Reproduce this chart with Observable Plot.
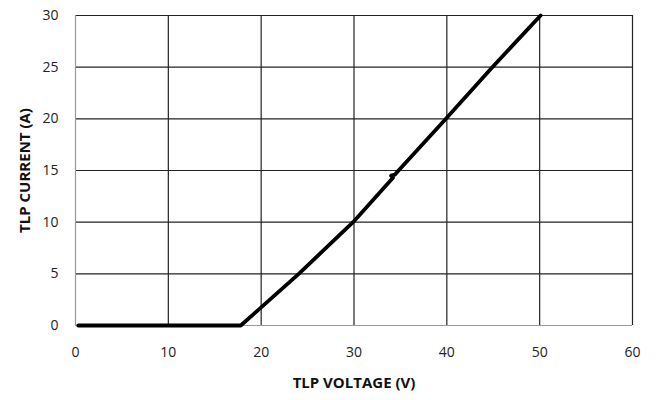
<!DOCTYPE html>
<html>
<head>
<meta charset="utf-8">
<script src="https://cdn.jsdelivr.net/npm/d3@7"></script>
<script src="https://cdn.jsdelivr.net/npm/@observablehq/plot@0.6"></script>
<style>
  html, body { margin: 0; padding: 0; background: #fff; }
  #chart { width: 660px; height: 400px; }
</style>
</head>
<body>
<div id="chart"></div>
<script>
const voltage = [0.3, 17.8, 20.0, 24.05, 29.9, 34.2, 34.0, 34.4, 34.8, 39.9, 44.9, 50.1];
const current = [0.0, 0.0, 1.75, 5.0, 10.0, 14.3, 14.5, 14.6, 15.0, 20.0, 25.0, 30.0];
const xTicks = [0, 10, 20, 30, 40, 50, 60];
const yTicks = [0, 5, 10, 15, 20, 25, 30];

const data = voltage.map((v, i) => ({ v, a: current[i] }));
const font = "'Open Sans', 'Liberation Sans', sans-serif";

const chart = Plot.plot({
  width: 660,
  height: 400,
  marginLeft: 75,
  marginRight: 28,
  marginTop: 15,
  marginBottom: 75,
  style: { fontFamily: font, fontSize: "14px", color: "#222", background: "#fff" },
  x: { domain: [0, 60], ticks: xTicks },
  y: { domain: [0, 30], ticks: yTicks },
  marks: [
    Plot.ruleX(xTicks.filter(d => d > 0), { stroke: "#222", strokeWidth: 1.2 }),
    Plot.ruleY(yTicks.filter(d => d > 0), { stroke: "#222", strokeWidth: 1.2 }),
    Plot.ruleX([0], { stroke: "#999", strokeWidth: 1.2 }),
    Plot.ruleY([0], { stroke: "#999", strokeWidth: 1.2 }),
    Plot.axisX({ ticks: xTicks, tickSize: 0, tickPadding: 22, fontSize: 14, label: null }),
    Plot.axisY({ ticks: yTicks, tickSize: 0, tickPadding: 17, fontSize: 14, label: null }),
    Plot.line(data, { x: "v", y: "a", stroke: "#000", strokeWidth: 3.8, strokeLinejoin: "round", strokeLinecap: "round" }),
    Plot.text(["TLP VOLTAGE (V)"], {
      frameAnchor: "bottom", textAnchor: "middle", dy: 62, fontWeight: "bold", fontSize: 15, fill: "#111"
    }),
    Plot.text(["TLP CURRENT (A)"], {
      frameAnchor: "left", textAnchor: "middle", dx: -50, rotate: -90, fontWeight: "bold", fontSize: 15, fill: "#111"
    })
  ]
});
document.getElementById("chart").appendChild(chart);
</script>
</body>
</html>
